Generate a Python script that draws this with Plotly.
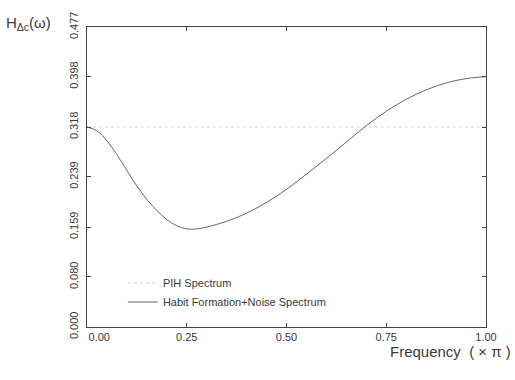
import plotly.graph_objects as go

# Frequency (in units of pi)
freq = [0.00, 0.025, 0.05, 0.075, 0.10, 0.125, 0.15, 0.175, 0.20, 0.225, 0.25,
        0.275, 0.30, 0.35, 0.40, 0.45, 0.50, 0.55, 0.60, 0.65, 0.70, 0.75,
        0.80, 0.85, 0.90, 0.95, 1.00]
# Habit Formation + Noise spectrum
habit = [0.318, 0.312, 0.296, 0.274, 0.249, 0.224, 0.203, 0.185, 0.171, 0.161, 0.156,
         0.156, 0.159, 0.168, 0.181, 0.198, 0.219, 0.243, 0.268, 0.294, 0.320, 0.343,
         0.362, 0.377, 0.388, 0.395, 0.398]
# PIH spectrum (flat)
pih_x = [0.0, 1.0]
pih = [0.318, 0.318]

x_ticks = [0.0, 0.25, 0.5, 0.75, 1.0]
x_ticktext = ["\u00a0" * 8 + "0.00", "0.25", "0.50", "0.75", "1.00"]
y_ticks = [0.0, 0.0796, 0.159, 0.239, 0.318, 0.398, 0.477]
y_ticktext = ["0.000", "0.080", "0.159", "0.239", "0.318", "0.398", "0.477"]

FONT = "Liberation Sans, Arial, sans-serif"
TXT = "#3a3a3a"
LINE = "#444444"

fig = go.Figure()
fig.add_trace(go.Scatter(x=pih_x, y=pih, mode="lines", name="PIH Spectrum",
                         line=dict(color="#d4d4d4", width=1, dash="dot")))
fig.add_trace(go.Scatter(x=freq, y=habit, mode="lines", name="Habit Formation+Noise Spectrum",
                         line=dict(color="#666666", width=1, shape="spline")))

axis_common = dict(showline=True, linecolor=LINE, linewidth=1, mirror="ticks",
                   ticks="inside", ticklen=4, tickcolor=LINE, showgrid=False,
                   zeroline=False, tickfont=dict(family=FONT, size=11, color=TXT))

fig.update_xaxes(range=[0, 1], tickvals=x_ticks, ticktext=x_ticktext, **axis_common)
fig.update_yaxes(range=[0, 0.477], tickvals=y_ticks, ticktext=y_ticktext,
                 tickangle=-90, ticklabelstandoff=4, **axis_common)

fig.add_annotation(text="H<sub>Δc</sub>(ω)", xref="paper", yref="paper",
                   x=-0.207, y=1.01, xanchor="left", yanchor="middle", showarrow=False,
                   font=dict(family=FONT, size=15, color=TXT))
fig.add_annotation(text="Frequency\u00a0\u00a0(\u00a0×\u00a0π\u00a0)", xref="paper", yref="paper",
                   x=1.067, y=-0.083, xanchor="right", yanchor="middle", showarrow=False,
                   font=dict(family=FONT, size=15, color=TXT))

fig.update_layout(
    width=515, height=380,
    margin=dict(l=87, r=29, t=25, b=53),
    paper_bgcolor="white", plot_bgcolor="white",
    font=dict(family=FONT, color=TXT),
    showlegend=True,
    legend=dict(x=0.09, y=0.195, xanchor="left", yanchor="top",
                bgcolor="rgba(0,0,0,0)", borderwidth=0,
                font=dict(family=FONT, size=11, color=TXT),
                itemwidth=30, tracegroupgap=0),
)

fig.write_html("out.html")
